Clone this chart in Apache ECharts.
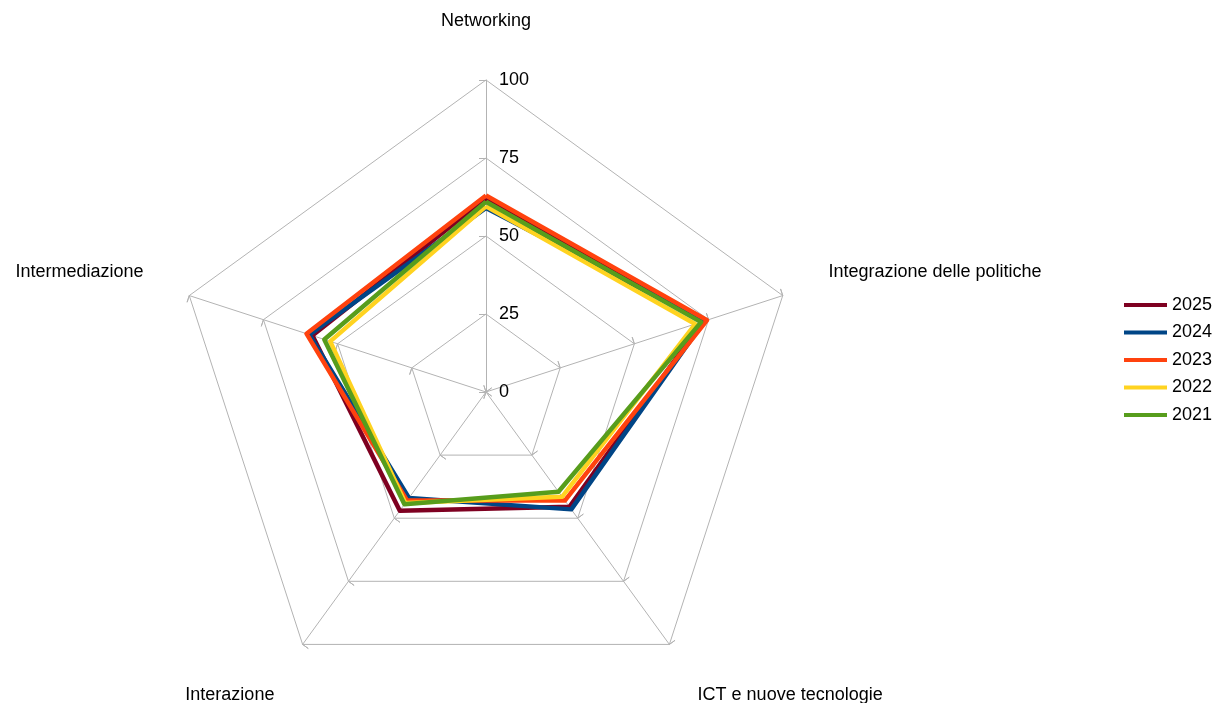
<!DOCTYPE html>
<html>
<head>
<meta charset="utf-8">
<script src="https://cdn.jsdelivr.net/npm/echarts@6/dist/echarts.min.js"></script>
<style>html,body{margin:0;padding:0;background:#fff}#c{width:1214px;height:703px}</style>
</head>
<body>
<div id="c"></div>
<script>
// Axes in clockwise order starting from the top
const categories = ['Networking', 'Integrazione delle politiche', 'ICT e nuove tecnologie', 'Interazione', 'Intermediazione'];
const years = ['2025', '2024', '2023', '2022', '2021'];
const values2025 = [62, 73, 45.5, 47, 58.5];
const values2024 = [59, 73.5, 46.5, 42, 59.5];
const values2023 = [63, 74.5, 43, 43, 60.5];
const values2022 = [59.5, 70.5, 41.5, 44, 52.5];
const values2021 = [61, 72.5, 39.5, 44.5, 54.5];
const colors = ['#7e0021', '#004586', '#ff420e', '#ffd320', '#579d1c'];
const tickLabels = ['0', '25', '50', '75', '100'];

const allValues = [values2025, values2024, values2023, values2022, values2021];
// ECharts lays indicators counter-clockwise: reorder to draw clockwise
const order = [0, 4, 3, 2, 1];
const indicators = order.map((k, i) => {
  const o = { name: categories[k], min: 0, max: 100 };
  if (i === 0) o.axisLabel = { show: true };
  return o;
});
// name placement style per axis (side names slightly up, bottom names down)
const nameStyle = { 'Networking': 'top', 'Integrazione delle politiche': 'side', 'Intermediazione': 'side',
  'ICT e nuove tecnologie': 'bottom', 'Interazione': 'bottom' };

const font = 'Liberation Sans, Arial, sans-serif';
const gray = '#b3b3b3';
const fs = 18;

const chart = echarts.init(document.getElementById('c'));
chart.setOption({
  animation: false,
  color: colors,
  legend: {
    orient: 'vertical',
    left: 1119,
    top: 290,
    icon: 'rect',
    itemWidth: 43,
    itemHeight: 4,
    itemGap: 7.5,
    textStyle: { fontFamily: font, fontSize: fs, color: '#000', lineHeight: 20 },
    data: years
  },
  radar: [{
    center: [486, 392],
    radius: 312,
    startAngle: 90,
    splitNumber: 4,
    shape: 'polygon',
    indicator: indicators,
    nameGap: 48,
    axisName: {
      color: '#000', fontFamily: font, fontSize: fs,
      formatter: n => '{' + nameStyle[n] + '|' + n + '}',
      rich: {
        top: { fontFamily: font, fontSize: fs, color: '#000', padding: [0, 0, 2, 0] },
        side: { fontFamily: font, fontSize: fs, color: '#000', padding: [0, 0, 18, 0] },
        bottom: { fontFamily: font, fontSize: fs, color: '#000', padding: [24, 0, 0, 0] }
      }
    },
    splitLine: { lineStyle: { color: gray, width: 1 } },
    splitArea: { show: false },
    axisLine: { lineStyle: { color: gray, width: 1 } },
    axisTick: { show: true, length: 7, lineStyle: { color: gray } },
    axisLabel: {
      show: false, margin: -13, align: 'left', color: '#000', fontFamily: font, fontSize: fs,
      formatter: v => tickLabels[Math.round(v / 25)] ?? String(v)
    }
  }, {
    center: [486, 392],
    radius: 312,
    startAngle: 90,
    splitNumber: 4,
    shape: 'polygon',
    indicator: order.map(k => ({ name: '', min: 0, max: 100 })),
    axisName: { show: false },
    splitLine: { show: false },
    splitArea: { show: false },
    axisLine: { show: false },
    axisTick: { show: true, inside: true, length: 7, lineStyle: { color: gray } },
    axisLabel: { show: false }
  }],
  series: years.map((y, s) => ({
    type: 'radar',
    radarIndex: 0,
    name: y,
    symbol: 'none',
    lineStyle: { width: 4.5, color: colors[s] },
    itemStyle: { color: colors[s] },
    data: [{ name: y, value: order.map(k => allValues[s][k]) }]
  }))
});
</script>
</body>
</html>
